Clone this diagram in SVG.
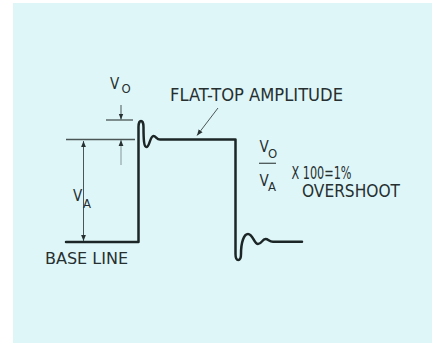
<svg xmlns="http://www.w3.org/2000/svg" width="437" height="346" viewBox="0 0 437 346">
<defs>
<style>
.t{font-family:"DejaVu Sans Condensed","DejaVu Sans","Liberation Sans",sans-serif;font-stretch:condensed;fill:#263030;}
.lbl{font-size:16px;}
.v{font-size:15px;}
.sub{font-size:13px;}
.ref{stroke:#4a5656;stroke-width:1.3;fill:none;}
.dim{stroke:#4a5656;stroke-width:1;fill:none;}
.wave{stroke:#1c2626;stroke-width:2.5;fill:none;stroke-linejoin:round;stroke-linecap:round;}
</style>
<marker id="ah" viewBox="0 0 10 10" refX="10" refY="5" markerWidth="6" markerHeight="6" orient="auto-start-reverse" markerUnits="userSpaceOnUse">
<path d="M0,1 L10,5 L0,9 Z" fill="#263030"/>
</marker>
</defs>
<rect x="0" y="0" width="437" height="346" fill="#ffffff"/>
<rect x="13" y="3" width="419" height="340" fill="#dff6f9"/>

<g id="waveform">
<path class="wave" d="M66 242 H138.5 V127 C138.5 119,143.5 119,143.5 127 C143.5 140,144 147,146.5 147 C149.5 147,150 136,153.5 136 C156 136,156.5 139.5,160 139.5 H235.5 V254 C235.5 262,241 262,241 254 C241 242,244 234,248 234 C253 234,254 244,258 244 C262 244,262 239,265.5 239 C268.5 239,269 241.7,273 241.7 H302"/>
</g>

<g id="connectors">
<line class="ref" x1="66" y1="139.5" x2="135" y2="139.5"/>
<line class="ref" x1="106" y1="120" x2="133" y2="120"/>
<line class="dim" x1="83.5" y1="141" x2="83.5" y2="241" marker-start="url(#ah)" marker-end="url(#ah)"/>
<line class="dim" x1="121" y1="105" x2="121" y2="119.5" marker-end="url(#ah)"/>
<line class="dim" x1="121" y1="165" x2="121" y2="140" marker-end="url(#ah)" stroke-opacity="0.6"/>
<line class="dim" x1="218" y1="108" x2="197" y2="135.5" marker-end="url(#ah)"/>
<line class="ref" x1="259" y1="163.3" x2="276" y2="163.3"/>
</g>

<g id="label-vo-top">
<text class="t v" x="110" y="88.5">V</text>
<text class="t sub" x="121.5" y="92.5">O</text>
</g>
<g id="label-va">
<text class="t v" x="73" y="200.5">V</text>
<text class="t sub" x="83" y="208">A</text>
</g>
<g id="label-flat-top">
<text class="t lbl" x="170" y="100.5" textLength="173" lengthAdjust="spacingAndGlyphs" style="font-size:17.5px">FLAT-TOP AMPLITUDE</text>
</g>
<g id="label-base-line">
<text class="t lbl" x="45" y="263.5" textLength="83" lengthAdjust="spacingAndGlyphs">BASE LINE</text>
</g>
<g id="label-overshoot">
<text class="t v" x="259.5" y="152">V</text>
<text class="t sub" x="268" y="158">O</text>
<text class="t v" x="259.5" y="185.5">V</text>
<text class="t sub" x="268" y="190.5">A</text>
<text class="t lbl" x="291.5" y="178.5" textLength="60" lengthAdjust="spacingAndGlyphs" style="font-size:17px">X 100=1%</text>
<text class="t lbl" x="302" y="196.5" textLength="98" lengthAdjust="spacingAndGlyphs" style="font-size:17px">OVERSHOOT</text>
</g>
</svg>
